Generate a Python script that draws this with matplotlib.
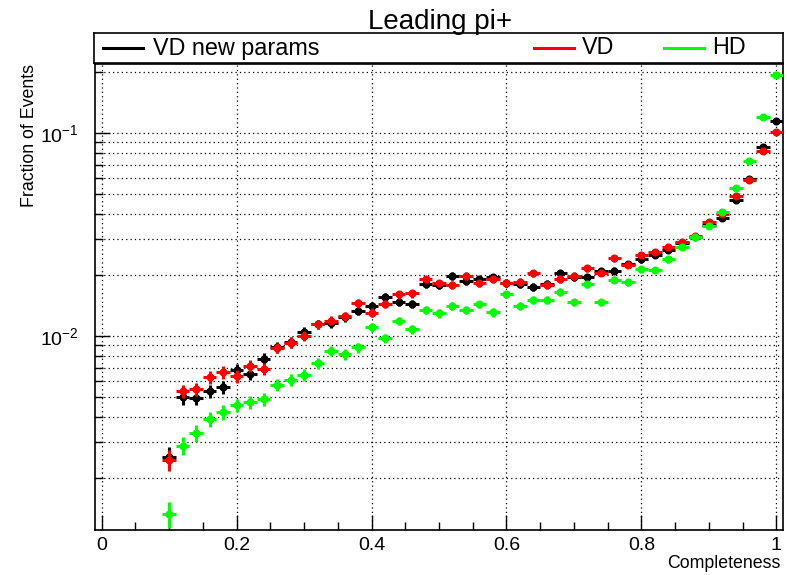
import matplotlib
matplotlib.use("Agg")
import matplotlib.pyplot as plt
from matplotlib.ticker import FixedLocator, NullFormatter, FixedFormatter

plt.rcParams['font.family'] = ['Liberation Sans', 'DejaVu Sans']
plt.rcParams['mathtext.fontset'] = 'custom'
plt.rcParams['mathtext.rm'] = 'Liberation Sans'
plt.rcParams['mathtext.it'] = 'Liberation Sans:italic'
plt.rcParams['mathtext.bf'] = 'Liberation Sans:bold'

# ---------------- data ----------------
completeness = [0.10, 0.12, 0.14, 0.16, 0.18, 0.20, 0.22, 0.24, 0.26, 0.28,
                0.30, 0.32, 0.34, 0.36, 0.38, 0.40, 0.42, 0.44, 0.46, 0.48,
                0.50, 0.52, 0.54, 0.56, 0.58, 0.60, 0.62, 0.64, 0.66, 0.68,
                0.70, 0.72, 0.74, 0.76, 0.78, 0.80, 0.82, 0.84, 0.86, 0.88,
                0.90, 0.92, 0.94, 0.96, 0.98, 1.00]
bin_half_width = 0.01

vd_new = [0.00254, 0.00501, 0.00497, 0.00536, 0.00561, 0.00680, 0.00654, 0.00775, 0.00883, 0.00934,
          0.01046, 0.01146, 0.01159, 0.01240, 0.01332, 0.01405, 0.01561, 0.01476, 0.01438, 0.01798,
          0.01784, 0.01982, 0.01872, 0.01909, 0.01946, 0.01824, 0.01804, 0.01750, 0.01804, 0.02037,
          0.01960, 0.01946, 0.02090, 0.02097, 0.02263, 0.02387, 0.02506, 0.02652, 0.02882, 0.03085,
          0.03522, 0.03835, 0.04690, 0.05934, 0.08560, 0.11500]
vd_new_err = [0.00029, 0.00041, 0.00041, 0.00042, 0.00043, 0.00048, 0.00047, 0.00051, 0.00054, 0.00056,
              0.00059, 0.00062, 0.00062, 0.00064, 0.00067, 0.00068, 0.00072, 0.00070, 0.00069, 0.00077,
              0.00077, 0.00081, 0.00079, 0.00080, 0.00081, 0.00078, 0.00078, 0.00076, 0.00078, 0.00082,
              0.00081, 0.00081, 0.00083, 0.00084, 0.00087, 0.00089, 0.00091, 0.00094, 0.00098, 0.00100,
              0.00110, 0.00110, 0.00125, 0.00140, 0.00170, 0.00200]

vd = [0.00245, 0.00536, 0.00548, 0.00628, 0.00665, 0.00635, 0.00716, 0.00693, 0.00876, 0.00929,
      0.01000, 0.01142, 0.01192, 0.01255, 0.01450, 0.01303, 0.01438, 0.01605, 0.01623, 0.01903,
      0.01818, 0.01784, 0.01982, 0.01818, 0.01909, 0.01818, 0.01851, 0.02044, 0.01784, 0.01909,
      0.01982, 0.02163, 0.02051, 0.02420, 0.02245, 0.02506, 0.02600, 0.02754, 0.02915, 0.03110,
      0.03636, 0.04004, 0.04877, 0.05867, 0.08181, 0.10080]
vd_err = [0.00029, 0.00042, 0.00043, 0.00046, 0.00047, 0.00046, 0.00049, 0.00048, 0.00054, 0.00056,
          0.00058, 0.00062, 0.00063, 0.00065, 0.00070, 0.00066, 0.00069, 0.00073, 0.00074, 0.00080,
          0.00078, 0.00077, 0.00081, 0.00078, 0.00080, 0.00078, 0.00079, 0.00083, 0.00077, 0.00080,
          0.00081, 0.00085, 0.00083, 0.00090, 0.00087, 0.00091, 0.00093, 0.00096, 0.00099, 0.00100,
          0.00110, 0.00115, 0.00130, 0.00140, 0.00165, 0.00180]

hd = [0.001328, 0.00288, 0.00333, 0.00390, 0.00422, 0.00457, 0.00473, 0.00489, 0.00577, 0.00611,
      0.00647, 0.00738, 0.00848, 0.00815, 0.00880, 0.01104, 0.00974, 0.01190, 0.01083, 0.01343,
      0.01294, 0.01410, 0.01343, 0.01434, 0.01309, 0.01605, 0.01410, 0.01513, 0.01514, 0.01653,
      0.01466, 0.01798, 0.01466, 0.01899, 0.01839, 0.02131, 0.02114, 0.02387, 0.02754, 0.03064,
      0.03494, 0.04068, 0.05359, 0.07279, 0.11950, 0.19310]
hd_err = [0.000195, 0.00029, 0.00031, 0.00033, 0.00035, 0.00036, 0.00037, 0.00037, 0.00041, 0.00042,
          0.00043, 0.00046, 0.00049, 0.00048, 0.00050, 0.00056, 0.00053, 0.00058, 0.00056, 0.00062,
          0.00061, 0.00063, 0.00062, 0.00064, 0.00061, 0.00068, 0.00063, 0.00066, 0.00066, 0.00069,
          0.00065, 0.00072, 0.00065, 0.00074, 0.00073, 0.00078, 0.00078, 0.00083, 0.00089, 0.00094,
          0.00100, 0.00108, 0.00124, 0.00144, 0.00185, 0.00235]

series_labels = ["VD new params", "VD", "HD"]
series_colors = ["#000000", "#ff0000", "#00ff00"]

x_ticks = [0.0, 0.2, 0.4, 0.6, 0.8, 1.0]
x_tick_labels = ["0", "0.2", "0.4", "0.6", "0.8", "1"]
y_major = [0.01, 0.1]
y_major_labels = [r"$\mathregular{10^{-2}}$", r"$\mathregular{10^{-1}}$"]
y_minor = [0.002, 0.003, 0.004, 0.005, 0.006, 0.007, 0.008, 0.009,
           0.02, 0.03, 0.04, 0.05, 0.06, 0.07, 0.08, 0.09, 0.2]

# ---------------- figure ----------------
W, H = 787, 575
fig = plt.figure(figsize=(W / 100, H / 100), dpi=100)
fig.patch.set_facecolor("white")

ax = fig.add_axes([95 / W, 1 - 530 / H, 688 / W, 466 / H])
ax.set_yscale("log")
ax.set_xlim(-0.01, 1.01)
ax.set_ylim(0.00111, 0.219)

ax.xaxis.set_major_locator(FixedLocator(x_ticks))
ax.xaxis.set_major_formatter(FixedFormatter(x_tick_labels))
ax.xaxis.set_minor_locator(FixedLocator([t / 100 for t in range(5, 100, 5)]))
ax.yaxis.set_major_locator(FixedLocator(y_major))
ax.yaxis.set_major_formatter(FixedFormatter(y_major_labels))
ax.yaxis.set_minor_locator(FixedLocator(y_minor))
ax.yaxis.set_minor_formatter(NullFormatter())

ax.tick_params(axis="x", which="major", direction="in", length=11, width=1, labelsize=14, pad=5)
ax.tick_params(axis="x", which="minor", direction="in", length=6, width=1)
ax.tick_params(axis="y", which="major", direction="in", length=11, width=1, labelsize=14, pad=12)
ax.tick_params(axis="y", which="minor", direction="in", length=6, width=1)

grid_style = dict(color="black", linestyle=(0, (1, 2.5)), linewidth=0.9)
ax.grid(True, axis="x", which="major", **grid_style)
ax.grid(True, axis="y", which="both", **grid_style)
ax.set_axisbelow(True)
for sp in ax.spines.values():
    sp.set_linewidth(1.2)

order = [(vd_new, vd_new_err, 0), (hd, hd_err, 2), (vd, vd_err, 1)]
for vals, errs, idx in order:
    ax.errorbar(completeness, vals, yerr=errs, xerr=bin_half_width,
                fmt="o", ms=4.8, color=series_colors[idx], mec=series_colors[idx],
                elinewidth=2.2, capsize=0, zorder=3 + idx)

# axis titles
fig.text(30 / W, 1 - 64 / H, "Fraction of Events", rotation=90,
         ha="center", va="top", fontsize=12.8)
fig.text(781 / W, 1 - 563 / H, "Completeness", ha="right", va="center", fontsize=12.8)

# title
fig.text(440 / W, 1 - 29 / H, "Leading pi+", ha="center", va="baseline", fontsize=20)

# legend box
lax = fig.add_axes([94 / W, 1 - 63 / H, 689 / W, 30 / H])
lax.set_xlim(94, 783)
lax.set_ylim(63, 33)
lax.set_xticks([])
lax.set_yticks([])
for sp in lax.spines.values():
    sp.set_linewidth(1.2)
legend_line_x = [(103, 143), (534, 574), (664, 704)]
legend_text_x = [153, 582, 712]
for i in range(3):
    lax.plot(legend_line_x[i], (48, 48), color=series_colors[i], lw=2.2)
    lax.text(legend_text_x[i], 48, series_labels[i], ha="left", va="center", fontsize=16.8)

fig.savefig("out.png", dpi=100)
